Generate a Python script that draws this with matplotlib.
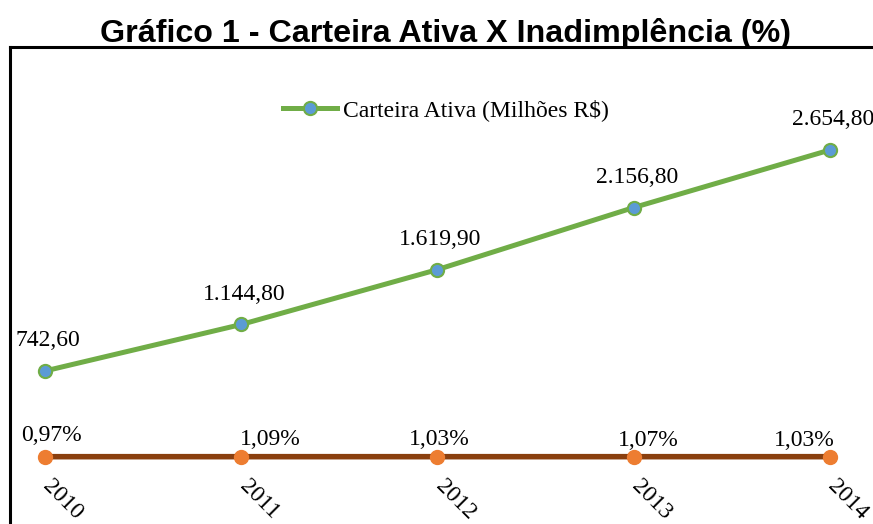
import matplotlib
matplotlib.use("Agg")
import matplotlib.pyplot as plt
from matplotlib.lines import Line2D
from matplotlib.transforms import ScaledTranslation

years = [2010, 2011, 2012, 2013, 2014]
year_labels = ["2010", "2011", "2012", "2013", "2014"]
carteira = [742.60, 1144.80, 1619.90, 2156.80, 2654.80]
carteira_labels = ["742,60", "1.144,80", "1.619,90", "2.156,80", "2.654,80"]
inad = [0.97, 1.09, 1.03, 1.07, 1.03]
inad_labels = ["0,97%", "1,09%", "1,03%", "1,07%", "1,03%"]

W, H = 873, 524
dpi = 100
fig = plt.figure(figsize=(W / dpi, H / dpi), dpi=dpi)
serif = ["Liberation Serif", "DejaVu Serif"]
fs = 17

# axes in pixel coordinates
ax_left, ax_right, ax_top, ax_bottom = 10, 873, 47, 470
ax = fig.add_axes([ax_left / W, 1 - ax_bottom / H, (ax_right - ax_left) / W, (ax_bottom - ax_top) / H])
ax.set_xlim(2009.822, 2014.219)
upp = 1912.2 / 221.0
zero_px = 456.8
ax.set_ylim(-(ax_bottom - zero_px) * upp, (zero_px - ax_top) * upp)
for s in ax.spines.values():
    s.set_visible(False)
ax.set_yticks([])
ax.set_facecolor("none")

green = "#70AD47"
blue = "#5B9BD5"
orange = "#ED7D31"
brown = "#8A3F0E"

ax.plot(years, inad, color=brown, lw=4.0, marker="o", ms=10, mfc=orange, mec=orange, zorder=3,
        solid_capstyle="butt")
ax.plot(years, carteira, color=green, lw=3.6, marker="o", ms=9.5, mfc=blue, mec=green, mew=1.5, zorder=4,
        label="Carteira Ativa (Milhões R$)")

for x, y, t in zip(years, carteira, carteira_labels):
    ax.annotate(t, (x, y), xytext=(3, 30), textcoords="offset pixels", ha="center", va="center",
                fontsize=fs, family=serif)

inad_offsets = [(7, 21), (29, 17), (2, 17), (15, 16), (-26, 16)]
for x, y, t, (dx, dy) in zip(years, inad, inad_labels, inad_offsets):
    ax.annotate(t, (x, y), xytext=(dx, dy), textcoords="offset pixels", ha="center", va="center",
                fontsize=fs, family=serif)

ax.set_xticks(years)
ax.set_xticklabels(year_labels, rotation=-45, fontsize=fs, family=serif, ha="center", va="top")
ax.tick_params(axis="x", length=0, pad=4)
for lab in ax.get_xticklabels():
    lab.set_transform(lab.get_transform() + ScaledTranslation(18 / dpi, 0, fig.dpi_scale_trans))

# frame (left and top)
fig.add_artist(Line2D([10 / W, 10 / W], [0, 1 - 47 / H], transform=fig.transFigure, color="black", lw=2.2))
fig.add_artist(Line2D([10 / W, 1], [1 - 47 / H, 1 - 47 / H], transform=fig.transFigure, color="black", lw=2.2))

fig.text(446 / W, 1 - 42 / H, "Gráfico 1 - Carteira Ativa X Inadimplência (%)", ha="center", va="baseline",
         fontsize=23.2, fontweight="bold", family=["Liberation Sans", "DejaVu Sans"])

leg = fig.legend(handles=[ax.get_lines()[1]], loc="center left", bbox_to_anchor=(283 / W, 1 - 110 / H),
                 frameon=False, borderpad=0, borderaxespad=0, handlelength=2.3, handletextpad=0.25,
                 prop={"family": serif, "size": fs})

fig.savefig("out.png", dpi=dpi)
